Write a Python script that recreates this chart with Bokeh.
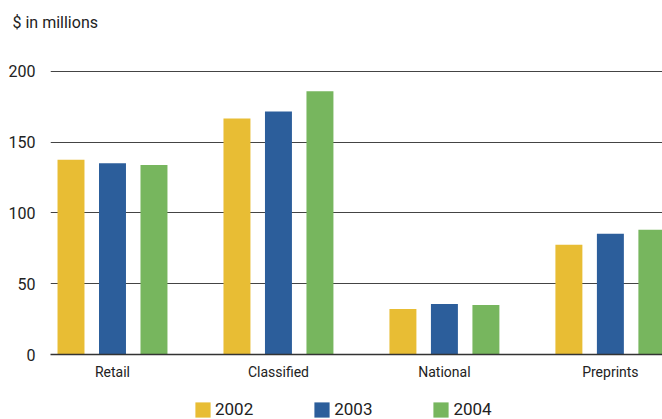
from bokeh.plotting import figure
from bokeh.models import ColumnDataSource, Range1d, FixedTicker, Legend, LegendItem, Title
from bokeh.layouts import column
from bokeh.transform import dodge
from bokeh.embed import file_html
from bokeh.resources import INLINE

categories = ["Retail", "Classified", "National", "Preprints"]
years = ["2002", "2003", "2004"]
v2002 = [137.5, 166.7, 32.2, 77.5]
v2003 = [135.0, 171.6, 35.7, 85.2]
v2004 = [133.8, 185.9, 35.0, 88.0]
y_ticks = [0, 50, 100, 150, 200]

colors = ["#E8BD34", "#2C5E9B", "#77B65E"]
FONT = "Roboto"
TXT = "#222222"

group_step = 4
pos = [i * group_step for i in range(len(categories))]
src = ColumnDataSource(dict(pos=pos, cat=categories, y2002=v2002, y2003=v2003, y2004=v2004))


def strip(h):
    f = figure(frame_width=612, frame_height=h, x_range=Range1d(1000, 1001),
               y_range=Range1d(5000, 5001),
               x_axis_type=None, y_axis_type=None, output_backend="svg", toolbar_location=None,
               min_border_left=50, min_border_right=0, min_border_top=0, min_border_bottom=0)
    f.outline_line_color = None
    f.grid.visible = False
    return f


# --- header strip with the subtitle
head = strip(1)
head.add_layout(Title(text="$ in millions", align="left", offset=-38, standoff=20,
                      text_font=FONT, text_font_size="16px", text_color=TXT,
                      text_font_style="normal"), "above")

# --- main chart
p = figure(frame_width=612, frame_height=284,
           x_range=Range1d(-1.494, 13.256), y_range=Range1d(0, 200.5),
           output_backend="svg", toolbar_location=None,
           min_border_left=50, min_border_right=0, min_border_top=28, min_border_bottom=46)

for j, (yr, col) in enumerate(zip(years, colors)):
    p.vbar(x=dodge("pos", j - 1), top="y" + yr, width=0.65, bottom=0, source=src,
           fill_color=col, line_color=None)

p.outline_line_color = None
p.xgrid.grid_line_color = None
p.ygrid.grid_line_color = "#444444"
p.ygrid.grid_line_width = 1
p.ygrid.ticker = FixedTicker(ticks=y_ticks)

p.yaxis.ticker = FixedTicker(ticks=y_ticks)
p.yaxis.axis_line_color = None
p.yaxis.major_tick_line_color = None
p.yaxis.minor_tick_line_color = None
p.yaxis.major_label_text_font = FONT
p.yaxis.major_label_text_font_size = "16px"
p.yaxis.major_label_text_color = TXT
p.yaxis.major_label_standoff = 9

p.xaxis.ticker = FixedTicker(ticks=pos)
p.xaxis.major_label_overrides = {pp: c for pp, c in zip(pos, categories)}
p.xaxis.axis_line_color = "#333333"
p.xaxis.axis_line_width = 1.5
p.xaxis.major_tick_line_color = None
p.xaxis.minor_tick_line_color = None
p.xaxis.major_label_text_font = FONT
p.xaxis.major_label_text_font_size = "14px"
p.xaxis.major_label_text_color = TXT
p.xaxis.major_label_standoff = 3

# --- legend strip (its bars lie far outside its ranges, only the legend shows)
leg = strip(19)
leg_r = [leg.vbar(x=dodge("pos", j - 1), top="y" + yr, width=0.65, source=src,
                  fill_color=c, line_color=None)
         for j, (yr, c) in enumerate(zip(years, colors))]
legend = Legend(items=[LegendItem(label=yr, renderers=[r]) for yr, r in zip(years, leg_r)],
                orientation="horizontal", location=(143, 0),
                glyph_width=19, glyph_height=19, label_height=19, label_standoff=3,
                spacing=59, padding=0, margin=0, border_line_color=None,
                background_fill_alpha=0, label_text_font=FONT, label_text_font_size="17px",
                label_text_color=TXT)
leg.add_layout(legend)

layout = column(head, p, leg, spacing=0)
open("out.html", "w").write(file_html(layout, INLINE))
